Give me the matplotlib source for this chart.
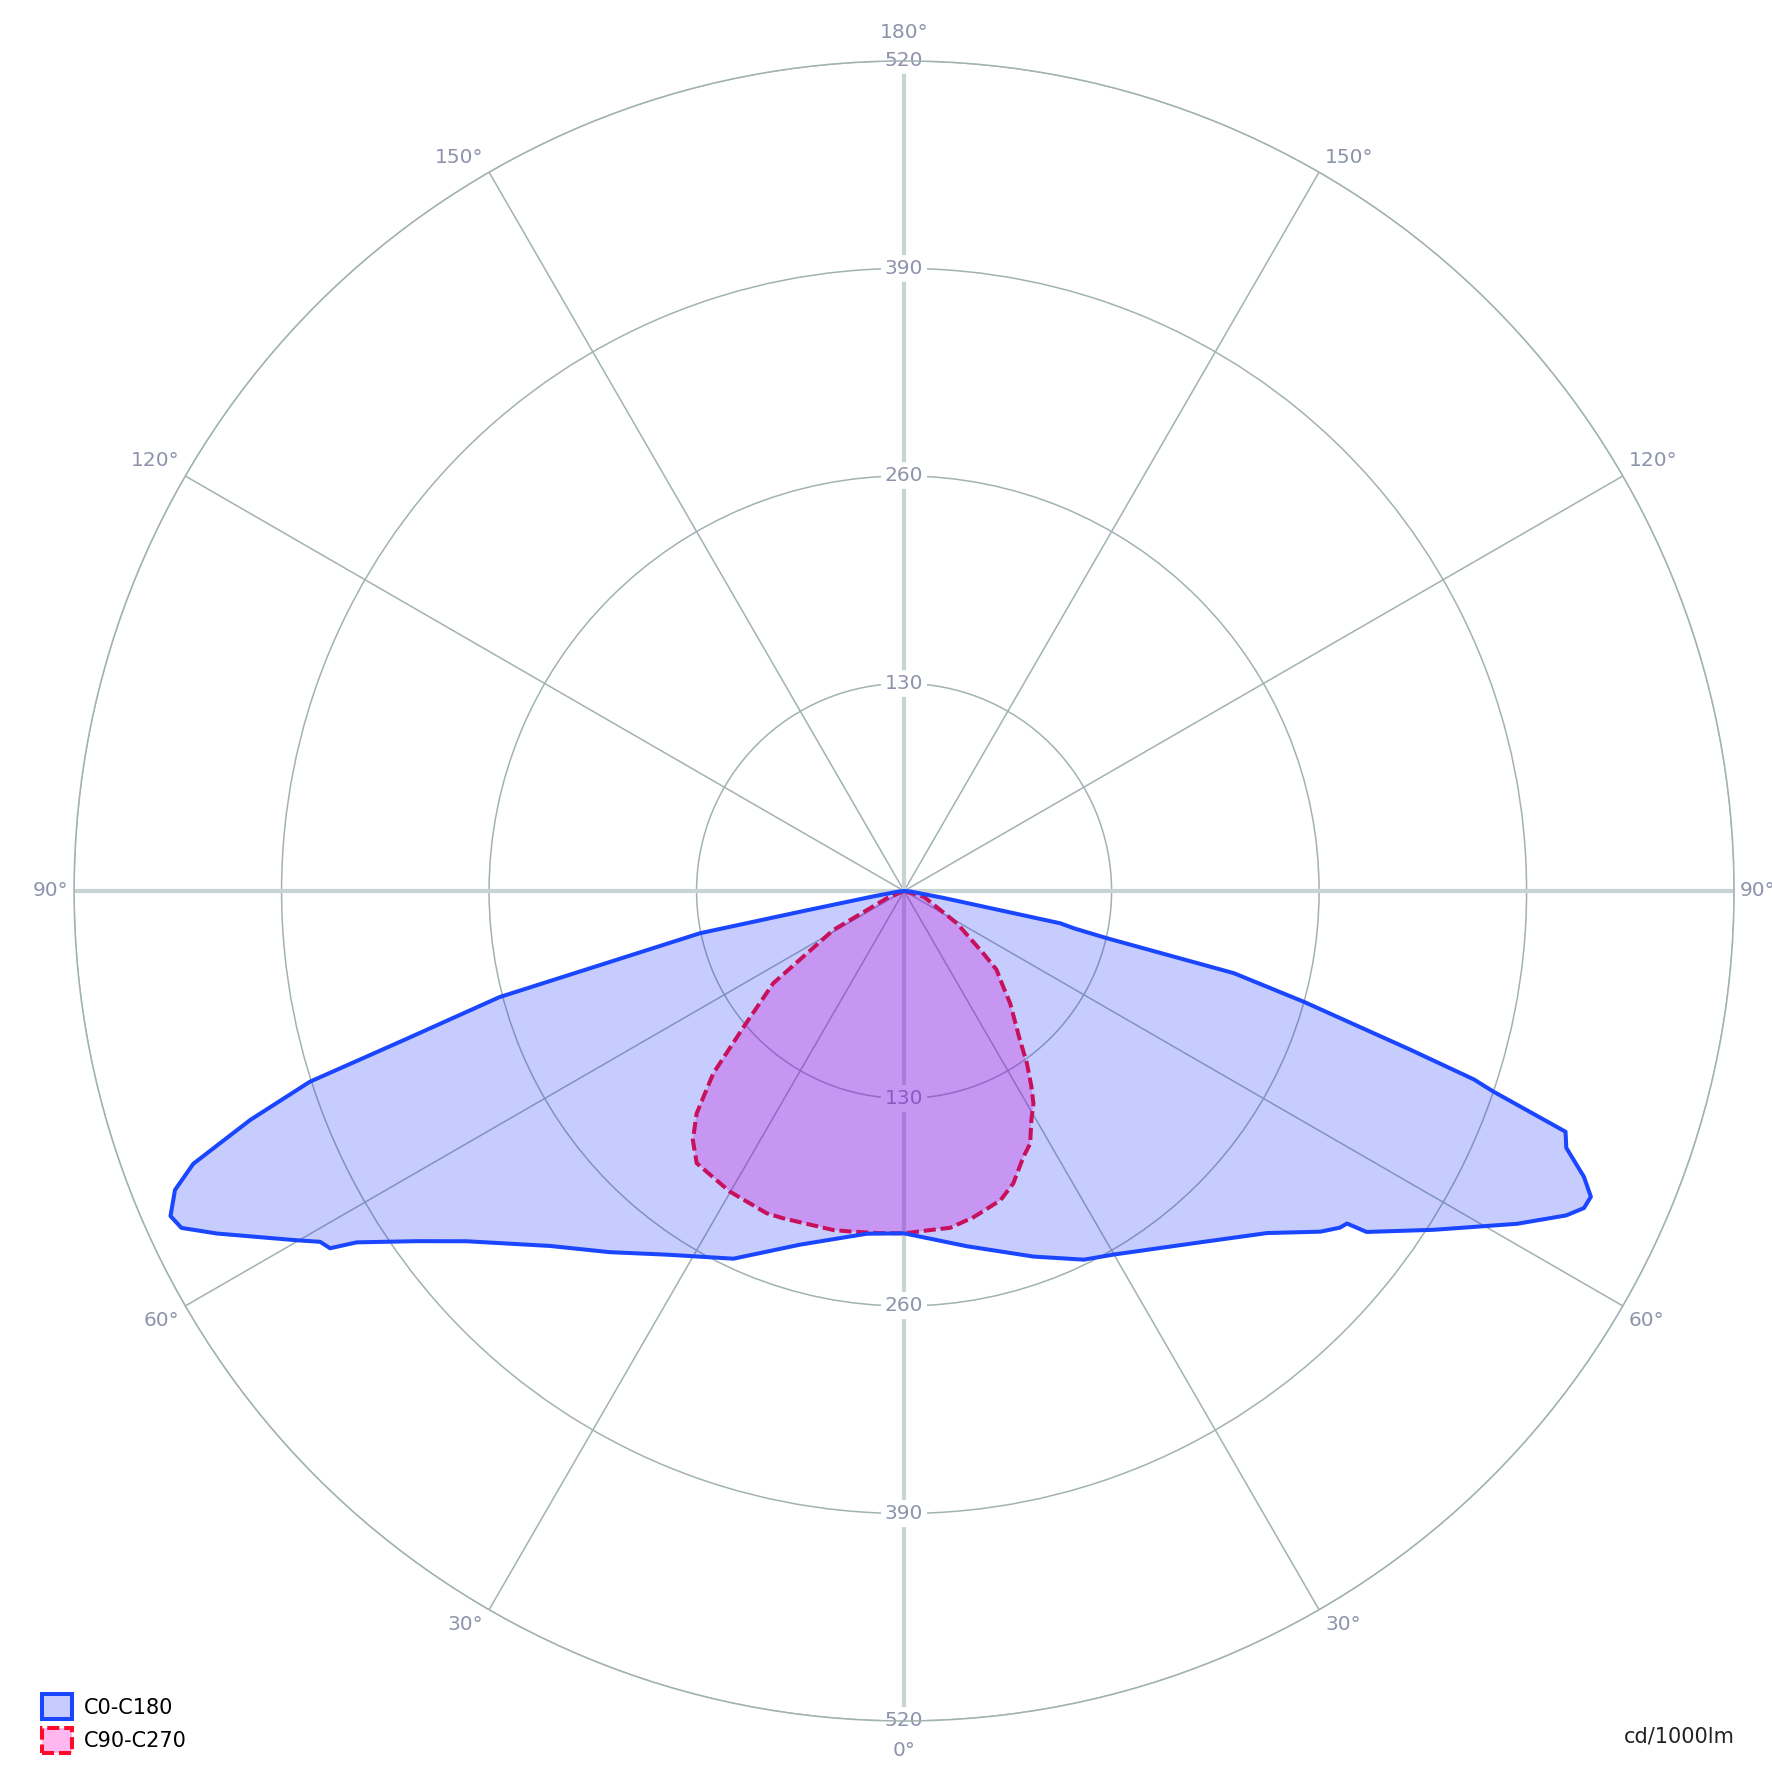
import numpy as np
import matplotlib.pyplot as plt

# luminous intensity (cd/1000lm) against gamma angle
c0_gamma = [0, 10, 19.5, 26, 30, 40, 46.7, 50.7, 52.3, 53.1, 53.6, 57.4, 61.5, 63.9, 65, 66,
            67.2, 68.8, 70, 71.2, 71.7, 72.6, 74.5, 76, 76.9, 77.6, 78.3, 80, 85, 90]
c0_cd = [214.5, 226, 243, 257, 263, 287.5, 312.5, 337, 345, 347, 360, 394, 437, 462, 470, 471,
         462, 445, 441, 390, 376, 332, 260, 213, 130, 109, 100, 25, 4, 0]

c180_gamma = [0, 6.2, 16.4, 24.9, 33.1, 39.2, 44.9, 51.3, 54.3, 57.3, 58.1, 59.0, 60.1, 63.5,
              65.0, 66.1, 67.7, 69.0, 70.7, 72.2, 73.4, 75.3, 76.3, 78.3, 78.7, 80, 85, 90]
c180_cd = [214.5, 216, 231, 254, 272, 292, 314, 351, 376, 407.5, 423.6, 426.8, 439, 481,
           499.5, 502.7, 493.7, 477, 434, 391, 327, 262, 196, 130.5, 66, 20, 3, 0]

c90_gamma = [0, 4.9, 7.8, 12.0, 17.3, 20.5, 24.2, 26.5, 29.1, 31.3, 33.1, 35.5, 37.9, 43.3,
             46.1, 49.6, 51.8, 58.5, 73.5, 90]
c90_cd = [214.5, 213, 213, 209, 203, 195.5, 182.5, 177, 164, 156, 146, 132.5, 118, 97,
          86, 76, 63, 39, 13, 0]

c270_gamma = [0, 4.6, 9.0, 11.8, 20.2, 23.1, 30.1, 37.3, 40.3, 43.0, 46.3, 49.9, 54.8, 61.1, 67, 90]
c270_cd = [214.5, 215, 216, 217, 218.6, 219.5, 217.7, 214.4, 204.6, 190.5, 165.3, 130.3, 100.3,
           50.6, 11.8, 0]

rings = [130, 260, 390, 520]
angle_ticks = [0, 30, 60, 90, 120, 150, 180]

grid_col = '#a2b2b2'
axis_col = '#c8d4d4'
lab_col = '#8d93ab'
blue = '#1a46ff'
red = '#ff0a2a'
blue_fill = (0.08, 0.16, 1.0, 0.235)
red_fill = (1.0, 0.0, 0.78, 0.28)


def closed(g_left, r_left, g_right, r_right):
    th = np.concatenate([-np.deg2rad(g_left)[::-1], np.deg2rad(g_right)])
    rr = np.concatenate([np.array(r_left)[::-1], np.array(r_right)])
    return th, rr


fig = plt.figure(figsize=(17.72, 17.72), dpi=100)
ax = fig.add_axes([0.0418, 0.0288, 0.9368, 0.9368], projection='polar')
ax.set_theta_zero_location('S')
ax.set_theta_direction(1)
ax.set_rlim(0, 520)
ax.set_rticks(rings)
ax.set_yticklabels([])
ax.set_xticks(np.deg2rad(np.arange(0, 360, 30)))
ax.set_xticklabels([])
ax.grid(True, color=grid_col, lw=1.1)
ax.spines['polar'].set_color(grid_col)
ax.spines['polar'].set_linewidth(1.1)

# main axes (0/90/180/270) drawn thicker and lighter
for a in [0, 90, 180, 270]:
    ax.plot([np.deg2rad(a)] * 2, [0, 520], color=axis_col, lw=3, zorder=1.6)

# radial value labels on the vertical axis, top and bottom
for r in rings:
    for t in [np.pi, 0]:
        ax.text(t, r, str(r), ha='center', va='center', fontsize=14.5, color=lab_col, zorder=1.8,
                bbox=dict(boxstyle='square,pad=0.2', fc='white', ec='none'))

# angle labels outside the circle
for a in angle_ticks:
    for side in [-1, 1]:
        if a in (0, 180) and side == -1:
            continue
        th = np.deg2rad(a) * side
        if a == 0:
            off, ha = (0, -30), 'center'
        elif a == 180:
            off, ha = (0, 28), 'center'
        else:
            dy = 15 if a > 90 else (-15 if a < 90 else 0)
            off = (6 * side, dy)
            ha = 'left' if side > 0 else 'right'
        ax.annotate(f'{a}°', xy=(th, 520), xytext=off, textcoords='offset pixels',
                    ha=ha, va='center', fontsize=14.5, color=lab_col, annotation_clip=False)

th_r, r_r = closed(c270_gamma, c270_cd, c90_gamma, c90_cd)
th_b, r_b = closed(c180_gamma, c180_cd, c0_gamma, c0_cd)

ax.fill(th_r, r_r, facecolor=red_fill, edgecolor=red, lw=2.9,
        linestyle=(0, (3, 1.2)), joinstyle='round', zorder=2)
ax.fill(th_b, r_b, facecolor=blue_fill, edgecolor=blue, lw=2.9, joinstyle='round', zorder=2.1)

handles = [
    plt.Rectangle((0, 0), 1, 1, facecolor=blue_fill, edgecolor=blue, lw=2.9),
    plt.Rectangle((0, 0), 1, 1, facecolor=red_fill, edgecolor=red, lw=2.9,
                  linestyle=(0, (3, 1.2))),
]
fig.legend(handles, ['C0-C180', 'C90-C270'], loc='lower left', bbox_to_anchor=(0.0237, 0.011),
           frameon=False, fontsize=15, handlelength=1.45, handleheight=1.45, borderpad=0,
           borderaxespad=0, handletextpad=0.55, labelspacing=0.42)

fig.text(0.979, 0.0198, 'cd/1000lm', ha='right', va='center', fontsize=15, color='#222222')

fig.savefig('out.png', dpi=100)
